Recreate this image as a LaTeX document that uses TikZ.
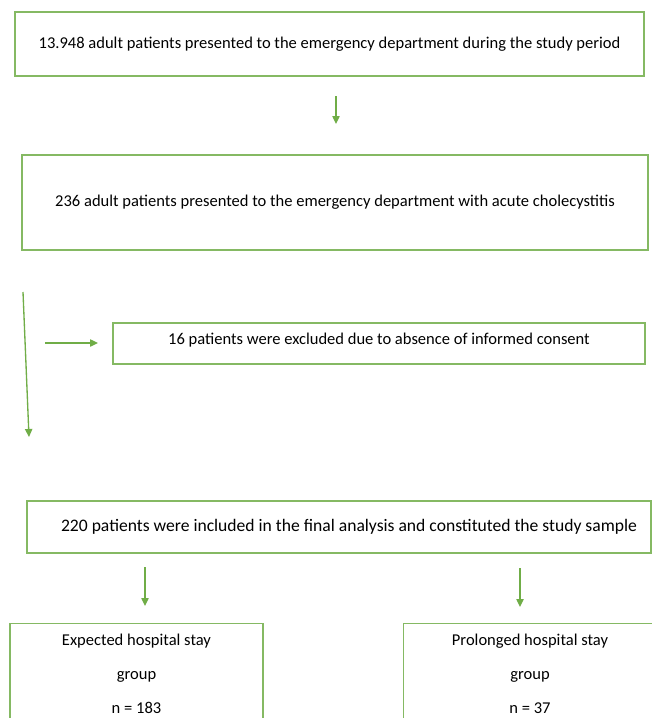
\documentclass[tikz,border=0pt]{standalone}
\usepackage{fontspec}
\setmainfont{Carlito}
\usetikzlibrary{arrows.meta}
\definecolor{flowgreen}{HTML}{70AD47}
\newcommand{\flowbox}[5]{\node(#1)[box,minimum width=#3,minimum height=#4] at #2 {#5}}

\begin{document}
\begin{tikzpicture}[
        x=0.75pt, y=-0.75pt,
        every node/.style={font=\fontsize{12.4pt}{15pt}\selectfont},
        box/.style={rectangle,draw=flowgreen!85,line width=1.1pt,inner sep=0pt},
        arrow/.style={draw=flowgreen,line width=1pt,
                      -{Triangle[width=5.5pt,length=6pt]}},
        group/.style={box,anchor=north,align=center,minimum width=189.75pt,
                      minimum height=78pt,text depth=42pt,inner ysep=8pt,
                      font=\fontsize{12.4pt}{25.5pt}\selectfont}
      ]

      % The page is cut at the size of the figure
      \clip (0,0) rectangle (652,718);

      % Boxes of the flow, top to bottom
      \flowbox{adults}{(329.5,44)}{471.75pt}{48pt}{13.948 adult patients presented to the emergency department during the study period};
      \flowbox{chole}{(335,202.5)}{469.5pt}{71.25pt}{236 adult patients presented to the emergency department with acute cholecystitis};
      \flowbox{excl}{(379,343.5)}{399pt}{30.75pt}{};
      \node(excltext) at (379,340) {16 patients were excluded due to absence of informed consent};
      \flowbox{incl}{(339,527)}{468pt}{39pt}{};
      \node(incltext)[font=\fontsize{13.2pt}{15pt}\selectfont] at (349,527) {220 patients were included in the final analysis and constituted the study sample};

      % The two groups, cut at the bottom of the page
      \node(expected)[group] at (136.5,623) {Expected hospital stay\\group\\n = 183};
      \node(prolonged)[group] at (530,623) {Prolonged hospital stay\\group\\n = 37};

      % Free ends of the arrows
      \coordinate (a1s) at (336,96);  \coordinate (a1e) at (336,124);
      \coordinate (a2s) at (23,292);  \coordinate (a2e) at (29,437);
      \coordinate (a3s) at (45,343);  \coordinate (a3e) at (98,343);
      \coordinate (a4s) at (145,567); \coordinate (a4e) at (145,606);
      \coordinate (a5s) at (520,568); \coordinate (a5e) at (520,607);

      % Arrows
      \draw[arrow] (a1s) -- (a1e);
      \draw[arrow] (a2s) -- (a2e);
      \draw[arrow] (a3s) -- (a3e);
      \draw[arrow] (a4s) -- (a4e);
      \draw[arrow] (a5s) -- (a5e);
    \end{tikzpicture}
\end{document}
